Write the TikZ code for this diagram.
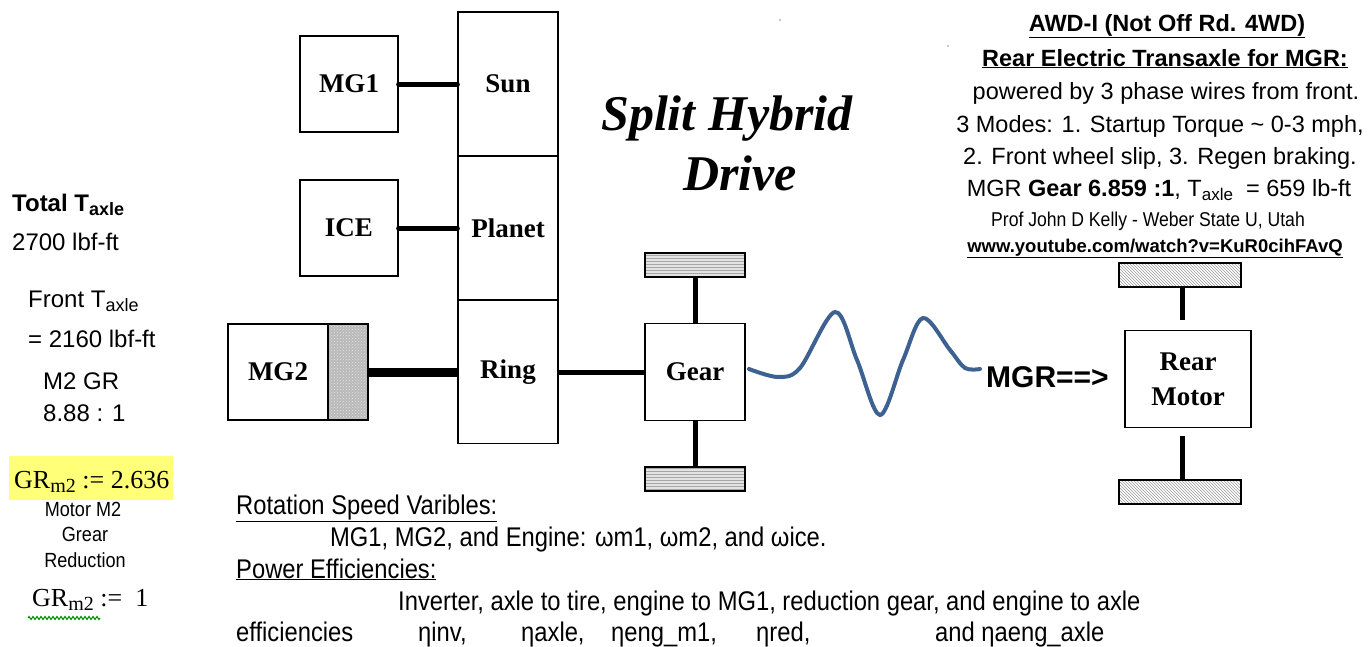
\documentclass[tikz,border=0pt]{standalone}
\usepackage{fontspec}
\setmainfont{Liberation Serif}
\newfontfamily\arial{Liberation Sans}
\newfontfamily\narrow[FakeStretch=0.88]{Liberation Sans}
\usetikzlibrary{patterns,calc,decorations.pathmorphing}
\newcommand\lo[2]{\raisebox{-0.35ex}{\fontsize{#1}{#1}\selectfont #2}}
\newcommand\fs[1]{\fontsize{#1}{#1}\selectfont}
\definecolor{wave}{RGB}{61,98,146}
\definecolor{hl}{RGB}{255,255,120}
\tikzset{
  blk/.style={draw, line width=1.3pt, inner sep=0pt, font=\fs{27}\bfseries},
  shaft/.style={line width=5pt, line cap=round},
  gwheel/.style={draw, line width=1.3pt, inner sep=0pt, minimum width=100pt, minimum height=24pt, preaction={fill=gray!22}, pattern=horizontal lines, pattern color=gray!70},
  rwheel/.style={draw, line width=1.3pt, inner sep=0pt, minimum width=122pt, minimum height=24pt, pattern=north west lines, pattern color=gray!80},
  txt/.style={inner sep=0pt, anchor=base west, font=\arial\fs{24}},
  ctxt/.style={inner sep=0pt, anchor=base, font=\arial\fs{23.5}},
  btxt/.style={inner sep=0pt, anchor=base west, font=\narrow\fs{27}},
}
\begin{document}
\begin{tikzpicture}[x=1pt,y=-1pt]
\useasboundingbox (0,0) rectangle (1369,646);
% planetary blocks
\node[blk, minimum width=98pt, minimum height=96pt] (mg1) at (349,84) {MG1};
\node[blk, minimum width=98pt, minimum height=96pt] (ice) at (349,228) {ICE};
\node[blk, minimum width=100pt, minimum height=144pt] (sun) at (508,84) {Sun};
\node[blk, minimum width=100pt, minimum height=144pt] (planet) at (508,228) {Planet};
\node[blk, minimum width=100pt, minimum height=143pt] (ring) at (508,372) {Ring};
\node[blk, minimum width=100pt, minimum height=96pt] (mg2) at (278,372) {MG2};
\node[draw, line width=1.3pt, inner sep=0pt, minimum width=40pt, minimum height=96pt, preaction={fill=gray!55}, pattern=crosshatch dots, pattern color=gray!20] (mg2h) at (348,372) {};
\node[blk, minimum width=100pt, minimum height=97pt] (gear) at (695,372) {Gear};
\node[gwheel] (tw) at (695,265) {};
\node[gwheel] (bw) at (695,479) {};
% shafts
\draw[shaft] (mg1) -- (sun);
\draw[shaft] (ice) -- (planet);
\draw[line width=9pt] (mg2h) -- (ring);
\draw[line width=5pt] (ring) -- (gear);
\draw[line width=5pt] (gear.north) -- (tw.south);
\draw[line width=5pt] (gear.south) -- (bw.north);
% title
\node[inner sep=0pt, anchor=base, font=\bfseries\itshape\fs{50}] (t1) at (727,130) {Split Hybrid};
\node[inner sep=0pt, anchor=base, font=\bfseries\itshape\fs{50}] (t2) at (740,190) {Drive};
% rear motor
\node[draw, line width=1.3pt, inner sep=0pt, minimum width=126pt, minimum height=97pt, align=center, font=\fontsize{27}{35}\selectfont\bfseries] (rm) at (1188,379) {Rear\\Motor};
\node[rwheel] (rtw) at (1180,275) {};
\node[rwheel] (rbw) at (1180,492) {};
\coordinate (rtl) at (1182,320);
\coordinate (rbl) at (1182,436);
\draw[line width=5pt] (rtw.south -| rtl) -- (rtl);
\draw[line width=5pt] (rbl) -- (rbw.north -| rbl);
\node[txt, font=\arial\bfseries\fs{30}] (mgr) at (986,387) {MGR==>};
% wave
\draw[wave, line width=4pt, line cap=round] plot[smooth, tension=0.55] coordinates {(749,369) (778,377) (800,368) (835,312) (857,360) (880,415) (903,360) (923,318) (950,350) (965,368) (980,369)};
% right notes
\node[ctxt, font=\arial\bfseries\fs{23.5}] (r1) at (1167,31) {\underline{AWD-I (Not Off Rd. 4WD)}};
\node[ctxt, font=\arial\bfseries\fs{23.5}] (r2) at (1165,66) {\underline{Rear Electric Transaxle for MGR:}};
\node[ctxt] (r3) at (1166,99) {powered by 3 phase wires from front.};
\node[ctxt] (r4) at (1160,132) {3 Modes: 1. Startup Torque \char`\~{} 0-3 mph,};
\node[ctxt] (r5) at (1160,164) {2. Front wheel slip, 3. Regen braking.};
\node[ctxt] (r6) at (1159,196) {MGR \textbf{Gear 6.859 :1}, T\lo{17}{axle}\ \ = 659 lb-ft};
\node[ctxt, font=\narrow\fs{20}] (r7) at (1148,226) {Prof John D Kelly - Weber State U, Utah};
\node[ctxt, font=\arial\bfseries\fs{18.5}] (r8) at (1155,252) {\underline{www.youtube.com/watch?v=KuR0cihFAvQ}};
\fill[wave!70] (780,20) circle (0.9);
\fill[wave!70] (948,46) circle (0.9);
% left notes
\node[txt, font=\arial\bfseries\fs{24}] (l1) at (12,211) {Total T\lo{18}{axle}};
\node[txt] (l2) at (12,250) {2700 lbf-ft};
\node[txt] (l3) at (28,307) {Front T\lo{18}{axle}};
\node[txt] (l4) at (28,347) {= 2160 lbf-ft};
\node[txt] (l5) at (43,389) {M2 GR};
\node[txt] (l6) at (43,421) {8.88 : 1};
\fill[hl] (9,456) rectangle (173,500);
\node[inner sep=0pt, anchor=base west, font=\fs{26}] (gr1) at (14,488) {GR\lo{20}{m2}\ :=\ 2.636};
\node[ctxt, font=\narrow\fs{20.5}] (mm) at (83,516) {Motor M2};
\node[ctxt, font=\narrow\fs{20.5}] (gg) at (85,541) {Grear};
\node[ctxt, font=\narrow\fs{20.5}] (rd) at (85,567) {Reduction};
\node[inner sep=0pt, anchor=base west, font=\fs{26}] (gr2) at (32,606) {GR\lo{20}{m2}\ :=\ \ 1};
\draw[green!55!black, line width=1pt, decorate, decoration={zigzag, segment length=4pt, amplitude=1.5pt}] (28,618) -- (100,618);
% bottom notes
\node[btxt] (b1) at (236,514) {\underline{Rotation Speed Varibles:}};
\node[btxt] (b2) at (330,546) {MG1, MG2, and Engine: ωm1, ωm2, and ωice.};
\node[btxt] (b3) at (236,578) {\underline{Power Efficiencies:}};
\node[btxt] (b4) at (398,610) {Inverter, axle to tire, engine to MG1, reduction gear, and engine to axle};
\node[btxt] (b5) at (236,641) {efficiencies};
\node[btxt] (b6) at (418,641) {ηinv,};
\node[btxt] (b7) at (521,641) {ηaxle,};
\node[btxt] (b8) at (611,641) {ηeng\_m1,};
\node[btxt] (b9) at (756,641) {ηred,};
\node[btxt] (b10) at (935,641) {and ηaeng\_axle};
\end{tikzpicture}
\end{document}
